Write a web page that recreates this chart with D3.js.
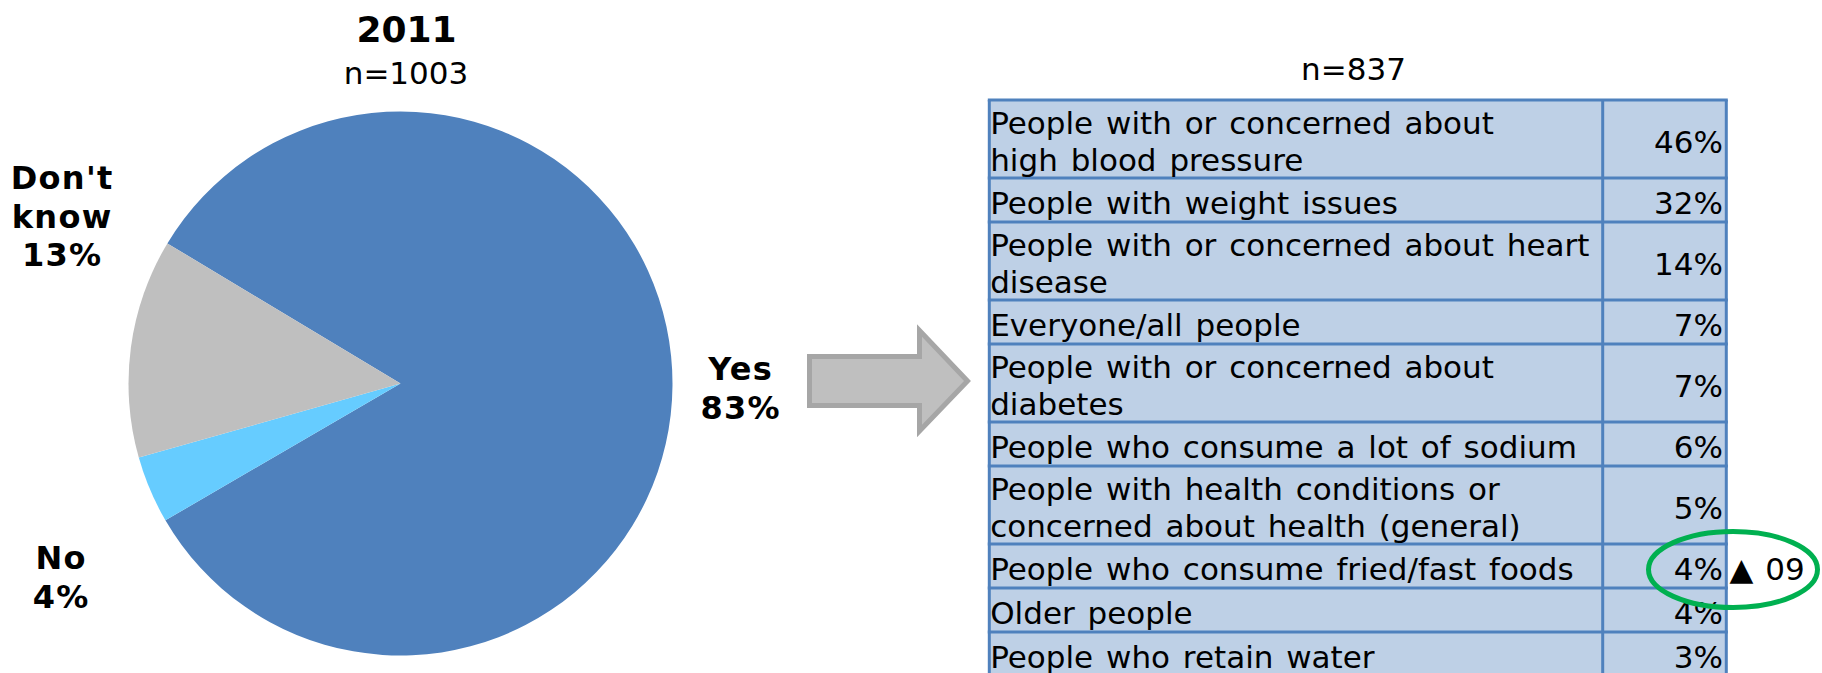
<!DOCTYPE html>
<html>
<head>
<meta charset="utf-8">
<script src="https://cdn.jsdelivr.net/npm/d3@7"></script>
<style>
  html, body { margin: 0; padding: 0; background: #ffffff; }
  svg { display: block; font-family: "DejaVu Sans", Verdana, sans-serif; }
</style>
</head>
<body>
<svg id="chart" width="1822" height="673"></svg>
<script>
// ---------------- DATA ----------------
const pieTitle = "2011";
const pieSampleLabel = "n=1003";
const pieCategories = ["Yes", "No", "Don't know"];
const pieValues = [83, 4, 13];

const tableSampleLabel = "n=837";
const tableCategories = [
  "People with or concerned about\nhigh blood pressure",
  "People with weight issues",
  "People with or concerned about heart\ndisease",
  "Everyone/all people",
  "People with or concerned about\ndiabetes",
  "People who consume a lot of sodium",
  "People with health conditions or\nconcerned about health (general)",
  "People who consume fried/fast foods",
  "Older people",
  "People who retain water"
];
const tableValues = [46, 32, 14, 7, 7, 6, 5, 4, 4, 3];
const changeCategories = ["People who consume fried/fast foods"];
const changeNotes = ["▲ 09"];

// ---------------- LAYOUT ----------------
const svg = d3.select("#chart");
svg.append("rect").attr("width", 1822).attr("height", 673).attr("fill", "#ffffff");

const pieColor = d3.scaleOrdinal().domain(pieCategories).range(["#4f81bd", "#66ccff", "#bfbfbf"]);
const cx = 400.5, cy = 383.5, R = 272;

// title
svg.append("text").attr("x", 406.5).attr("y", 41.5).attr("text-anchor", "middle")
  .attr("font-size", 36).attr("font-weight", "bold").attr("fill", "#000").text(pieTitle);
svg.append("text").attr("x", 406).attr("y", 83.7).attr("text-anchor", "middle")
  .attr("font-size", 31).attr("fill", "#000").text(pieSampleLabel);

// pie
const pie = d3.pie().sort(null).value(d => d.value).startAngle(-59 * Math.PI / 180).endAngle((360 - 59) * Math.PI / 180);
const arc = d3.arc().innerRadius(0).outerRadius(R);
const pieData = pie(pieCategories.map((c, i) => ({ cat: c, value: pieValues[i] })));
const gPie = svg.append("g").attr("transform", `translate(${cx},${cy})`);
gPie.selectAll("path").data(pieData).join("path")
  .attr("d", arc).attr("fill", d => pieColor(d.data.cat));

// pie labels (positions as laid out in the original)
const labelPos = {
  "Yes": { x: 740, y: 380 },
  "No": { x: 60.5, y: 568.7 },
  "Don't know": { x: 61.5, y: 188.8 }
};
const labelLH = 38.8, labelLS = 1.3;
pieData.forEach(d => {
  const words = d.data.cat === "Don't know" ? ["Don't", "know"] : [d.data.cat];
  const lines = words.concat([d.data.value + "%"]);
  const p = labelPos[d.data.cat];
  const t = svg.append("text").attr("text-anchor", "middle").attr("font-size", 32)
    .attr("font-weight", "bold").attr("fill", "#000").style("letter-spacing", labelLS + "px");
  lines.forEach((ln, i) => {
    t.append("tspan").attr("x", p.x + labelLS / 2).attr("y", p.y + i * labelLH).text(ln);
  });
});

// arrow
svg.append("path")
  .attr("d", "M809.5,356.5 L919.5,356.5 L919.5,330.5 L967.5,381 L919.5,431 L919.5,405.5 L809.5,405.5 Z")
  .attr("fill", "#bfbfbf").attr("stroke", "#a6a6a6").attr("stroke-width", 5).attr("stroke-linejoin", "miter");

// table
const tableLeft = 989.3, tableRight = 1726.3, colDiv = 1602.7, tableTop = 100;
const lineUnit = 34, rowPad = 10, lineGap = 37;
const rowLines = tableCategories.map(c => c.split("\n").length);
const rowHeights = rowLines.map(n => rowPad + n * lineUnit);
const rowEnds = Array.from(d3.cumsum(rowHeights));
const y = d3.scaleLinear().domain([0, rowEnds[rowEnds.length - 1]]).range([tableTop, tableTop + rowEnds[rowEnds.length - 1]]);
const rows = tableCategories.map((c, i) => ({
  cat: c, value: tableValues[i], lines: c.split("\n"),
  y0: y(i === 0 ? 0 : rowEnds[i - 1]), y1: y(rowEnds[i])
}));

svg.append("text").attr("x", 1353.5).attr("y", 80).attr("text-anchor", "middle")
  .attr("font-size", 31).attr("fill", "#000").text(tableSampleLabel);

const gT = svg.append("g");
gT.append("rect").attr("x", tableLeft).attr("y", tableTop)
  .attr("width", tableRight - tableLeft).attr("height", rows[rows.length - 1].y1 - tableTop)
  .attr("fill", "#bed0e6");

const border = "#4f81bd", bw = 3;
gT.selectAll("line.h").data([tableTop].concat(rows.map(r => r.y1))).join("line")
  .attr("class", "h").attr("x1", tableLeft - bw / 2).attr("x2", tableRight + bw / 2)
  .attr("y1", d => d).attr("y2", d => d).attr("stroke", border).attr("stroke-width", bw);
gT.selectAll("line.v").data([tableLeft, colDiv, tableRight]).join("line")
  .attr("class", "v").attr("x1", d => d).attr("x2", d => d)
  .attr("y1", tableTop).attr("y2", rows[rows.length - 1].y1)
  .attr("stroke", border).attr("stroke-width", bw);

rows.forEach(r => {
  const mid = (r.y0 + r.y1) / 2;
  const base = mid + 13.5 - (r.lines.length - 1) * lineGap / 2;
  const t = gT.append("text").attr("font-size", 31).attr("fill", "#000")
    .style("word-spacing", "3px");
  r.lines.forEach((ln, i) => {
    t.append("tspan").attr("x", 990.2).attr("y", base + i * lineGap).text(ln);
  });
  gT.append("text").attr("x", 1723).attr("y", mid + 13.5).attr("text-anchor", "end")
    .attr("font-size", 31).attr("fill", "#000").text(r.value + "%");
});

// change note + green ellipse
changeCategories.forEach((c, k) => {
  const r = rows.find(rr => rr.cat === c);
  const mid = (r.y0 + r.y1) / 2;
  svg.append("text").attr("x", 1729.5).attr("y", mid + 13.5).attr("font-size", 31)
    .attr("fill", "#000").style("word-spacing", "2px").text(changeNotes[k]);
  svg.append("ellipse").attr("cx", 1733).attr("cy", mid + 3.5).attr("rx", 84.5).attr("ry", 38)
    .attr("fill", "none").attr("stroke", "#00b050").attr("stroke-width", 5);
});
</script>
</body>
</html>
